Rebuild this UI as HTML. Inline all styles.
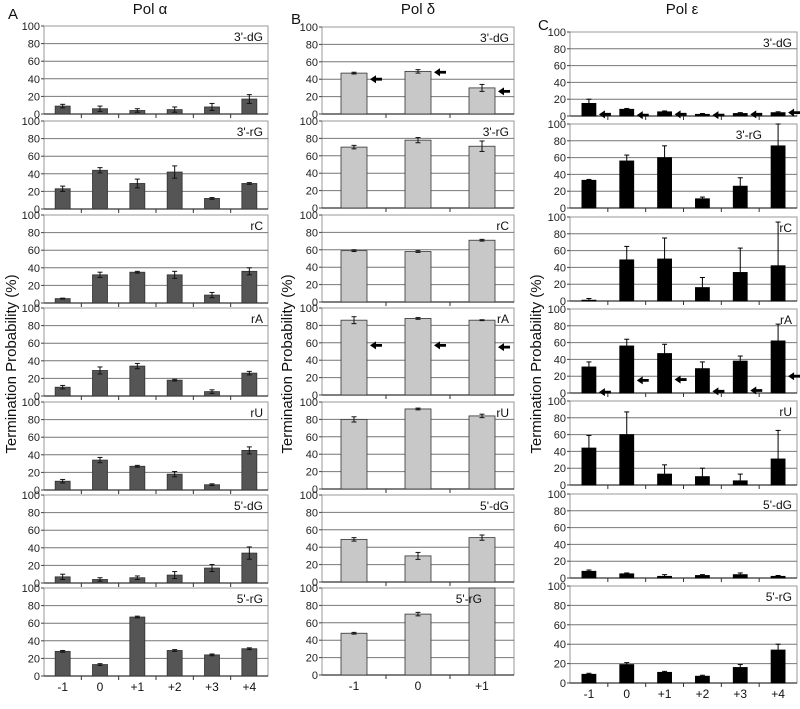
<!DOCTYPE html>
<html><head><meta charset="utf-8"><style>
body{margin:0;background:#fff;width:800px;height:704px;overflow:hidden}
svg{font-family:"Liberation Sans",sans-serif}
</style></head><body>
<svg id="fig" width="800" height="704"></svg>
<script>
const rowLabels=["3'-dG","3'-rG","rC","rA","rU","5'-dG","5'-rG"];
const catsAC=["-1","0","+1","+2","+3","+4"];
const catsB=["-1","0","+1"];
const yTicks=[0,20,40,60,80,100];
const aVals=[[9,6,4,5,8,17],[23,44,29,42,12,29],[5,32,35,32,9,36],[10,29,34,18,5,26],[10,34,27,18,6,45],[7,4,6,9,17,34],[28,13,67,29,24,31]];
const aErr=[[2,3,2,3,4,5],[3,3,5,7,1,1],[0.5,3,1,4,3,4],[2,4,3,1,2,2],[2,3,1,3,1,4],[3,2,2,4,4,7],[1,1,1,1,1,1]];
const bVals=[[47,49,30],[70,78,71],[59,58,71],[86,88,86],[80,92,84],[49,30,51],[48,70,100]];
const bErr=[[1,2,4],[2,3,6],[1,1,1],[4,1,0.5],[3,1,2],[2,4,3],[1,2,0]];
const bArrows=[[40,48,26],null,null,[57,57,55],null,null,null];
const cVals=[[15,8,5,2,3,4],[33,56,60,11,26,74],[1,49,50,16,34,42],[31,56,47,29,38,62],[44,60,13,10,5,31],[8,5,2,3,4,2],[9,19,11,7,16,34]];
const cErr=[[5,1,1,1,1,1],[1,7,14,2,10,26],[2,16,25,12,29,52],[6,8,11,8,6,20],[15,27,11,10,8,34],[1.5,1,2,1,2,1],[1,2,1,1,3,6]];
const cArrows=[[2,1,2,1,2,4],null,null,[1,15,16,2,3,20],null,null,null];

const NS="http://www.w3.org/2000/svg";
const svg=document.getElementById('fig');
function mk(tag,attrs,parent){const e=document.createElementNS(NS,tag);for(const k in attrs)e.setAttribute(k,attrs[k]);(parent||svg).appendChild(e);return e;}

const panels=[
 {id:'a',x0:44,x1:268,tops:[26,121,215,308,402,495,588],span:88,cats:catsAC,vals:aVals,err:aErr,arrows:null,fill:'#555',stroke:'#333',bw:15,sym:true,title:'Pol α',tx:150,letter:'A',lx:8,ly:19,ytx:16,lblX:{}},
 {id:'b',x0:322,x1:514,tops:[27,121,215,308,402,495,588],span:87,cats:catsB,vals:bVals,err:bErr,arrows:bArrows,fill:'#c8c8c8',stroke:'#333',bw:26,sym:true,title:'Pol δ',tx:418,letter:'B',lx:291,ly:24,ytx:292,lblX:{6:482}},
 {id:'c',x0:570,x1:797,tops:[32,124,217,309,401,494,586],span:84,cats:catsAC,vals:cVals,err:cErr,arrows:cArrows,fill:'#000',stroke:'#000',bw:14,sym:false,title:'Pol ε',tx:682,letter:'C',lx:538,ly:30,ytx:541,lblX:{1:762}}
];

panels.forEach(p=>{
  const g=mk('g',{});
  
  
  const t=mk('text',{x:p.tx,y:14,'font-size':15,'text-anchor':'middle',fill:'#111'},g);
  t.textContent=p.title;
  
  
  const l=mk('text',{x:p.lx,y:p.ly,'font-size':15,fill:'#111'},g);
  l.textContent=p.letter;
  
  
  const yt=mk('text',{x:p.ytx,y:364,'font-size':15,'text-anchor':'middle',fill:'#111',transform:`rotate(-90 ${p.ytx} 364)`},g);
  yt.textContent='Termination Probability (%)';
  
  
  const n=p.cats.length, cw=(p.x1-p.x0)/n;
  const xc=i=>p.x0+cw*(i+0.5);
  p.tops.forEach((top,r)=>{
    const span=(r===6&&p.id==='c')?97:p.span;
    const y=v=>top+span*(1-v/100);
    const rg=mk('g',{},g);
    
    
    mk('rect',{x:p.x0,y:top,width:p.x1-p.x0,height:span,fill:'#fff',stroke:'#999','stroke-width':1},rg);
    yTicks.forEach(v=>{
      if(v>0&&v<100) mk('line',{x1:p.x0,x2:p.x1,y1:y(v),y2:y(v),stroke:'#777','stroke-width':1},rg);
      mk('line',{x1:p.x0-3,x2:p.x0,y1:y(v),y2:y(v),stroke:'#444'},rg);
      const tl=mk('text',{x:p.x0-4,y:y(v)+4,'font-size':11,'text-anchor':'end',fill:'#222'},rg);
      tl.textContent=v;
      
      
    });
    mk('line',{x1:p.x0,x2:p.x1,y1:y(0),y2:y(0),stroke:'#333','stroke-width':1.2},rg);
    for(let i=1;i<n;i++) mk('line',{x1:p.x0+cw*i,x2:p.x0+cw*i,y1:y(0),y2:y(0)+4,stroke:'#333'},rg);
    p.vals[r].forEach((v,i)=>{
      const b=mk('rect',{x:xc(i)-p.bw/2,y:y(v),width:p.bw,height:y(0)-y(v),fill:p.fill,stroke:p.stroke,'stroke-width':0.8},rg);
      
      
      const e=p.err[r][i];
      if(e>0){
        const hi=Math.min(v+e,100), lo=p.sym?Math.max(v-e,0):v;
        const ec=p.sym?'#111':'#000';
        mk('line',{x1:xc(i),x2:xc(i),y1:y(hi),y2:y(lo),stroke:ec,'stroke-width':1},rg);
        mk('line',{x1:xc(i)-2.5,x2:xc(i)+2.5,y1:y(hi),y2:y(hi),stroke:ec,'stroke-width':1},rg);
        if(p.sym) mk('line',{x1:xc(i)-2.5,x2:xc(i)+2.5,y1:y(lo),y2:y(lo),stroke:ec,'stroke-width':1},rg);
      }
      if(p.arrows&&p.arrows[r]){
        const av=p.arrows[r][i], ax=xc(i)+p.bw/2+3, ay=y(av);
        const ar=mk('path',{d:`M${ax} ${ay} l6 -4 v2.6 h6 v2.8 h-6 v2.6 z`,fill:'#000'},rg);
        
        
      }
    });
    const lx=(p.lblX[r]!==undefined)?p.lblX[r]:p.x1-5;
    const lb=mk('text',{x:lx,y:top+15,'font-size':12,'text-anchor':'end',fill:'#111'},rg);
    lb.textContent=rowLabels[r];
    
    
    if(r===6){
      p.cats.forEach((c,i)=>{
        const xl=mk('text',{x:xc(i),y:y(0)+15,'font-size':12,'text-anchor':'middle',fill:'#111'},rg);
        xl.textContent=c;
        
        
      });
    }
  });
});
</script>
</body></html>
